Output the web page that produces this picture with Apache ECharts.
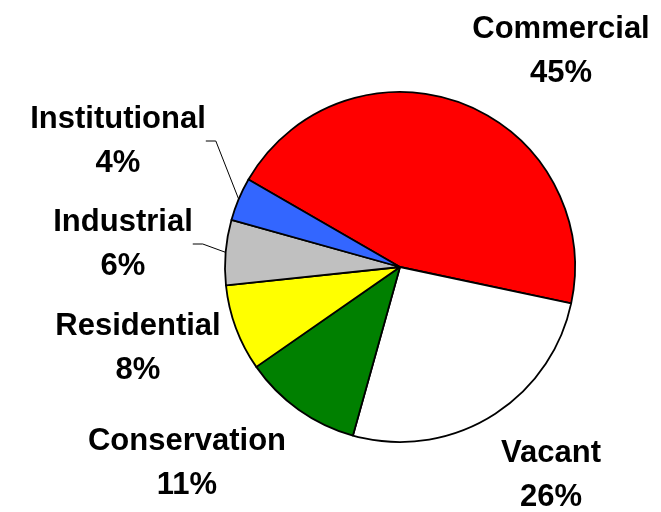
<!DOCTYPE html>
<html>
<head>
<meta charset="utf-8">
<script src="https://cdn.jsdelivr.net/npm/echarts@6/dist/echarts.min.js"></script>
<style>
  html, body { margin: 0; padding: 0; background: #ffffff; }
  #chart { width: 661px; height: 512px; }
</style>
</head>
<body>
<div id="chart"></div>
<script>
// Land use shares (percent), clockwise from the upper left
const categories = ['Commercial', 'Vacant', 'Conservation', 'Residential', 'Industrial', 'Institutional'];
const shares = [45, 26, 11, 8, 6, 4];
const sliceColors = ['#ff0000', '#ffffff', '#008000', '#ffff00', '#c0c0c0', '#3366ff'];

// Where each two-line label block is centred
const labelSpots = [
  [561, 51], [551, 475], [187, 463], [138, 348], [123, 244], [118, 141]
];
const withLeader = [false, false, false, false, true, true];

const chart = echarts.init(document.getElementById('chart'), null, { renderer: 'canvas' });

chart.setOption({
  animation: false,
  backgroundColor: '#ffffff',
  series: [{
    type: 'pie',
    center: [400, 267],
    radius: 175,
    startAngle: 150,
    clockwise: true,
    avoidLabelOverlap: false,
    itemStyle: { borderColor: '#000000', borderWidth: 1.8 },
    label: {
      show: true,
      position: 'outside',
      formatter: '{b}\n{c}%',
      color: '#000000',
      fontFamily: 'Liberation Sans, Arial, sans-serif',
      fontWeight: 'bold',
      fontSize: 31,
      lineHeight: 44,
      align: 'center'
    },
    labelLine: {
      show: true,
      length: 10,
      length2: 10,
      smooth: false,
      lineStyle: { color: '#000000', width: 1 }
    },
    labelLayout: function (p) {
      const s = labelSpots[p.dataIndex];
      return {
        x: s[0],
        y: s[1],
        align: 'center',
        verticalAlign: 'middle'
      };
    },
    data: categories.map((name, i) => ({
      name: name,
      value: shares[i],
      itemStyle: { color: sliceColors[i] },
      labelLine: { show: withLeader[i] }
    }))
  }]
});
</script>
</body>
</html>
